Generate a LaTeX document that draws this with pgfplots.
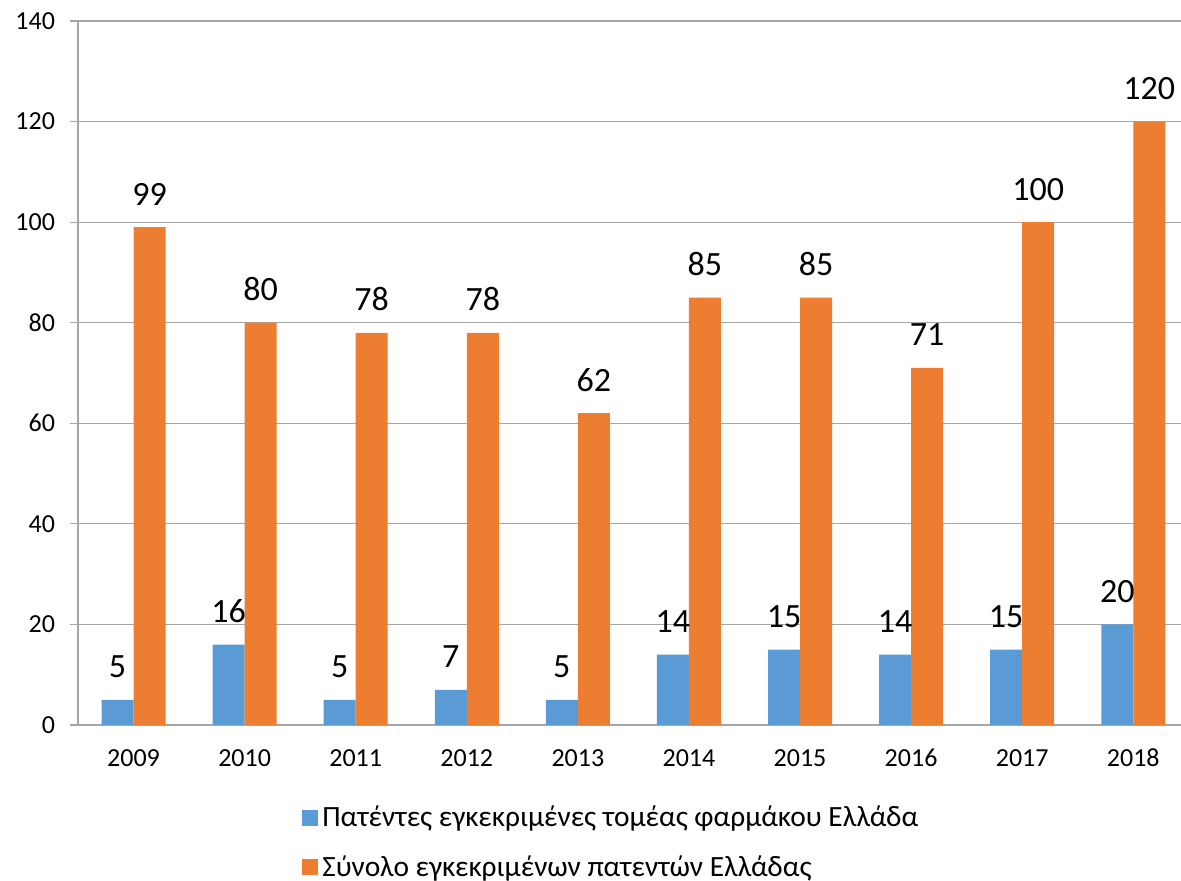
\documentclass[border=0pt]{standalone}
\usepackage{pgfplots}
\pgfplotsset{compat=1.18}
\usepackage{fontspec}
\setmainfont{Carlito}
\definecolor{cblue}{HTML}{5B9BD5}
\definecolor{corange}{HTML}{ED7D31}
\definecolor{gridc}{HTML}{A6A6A6}
\begin{document}
\begin{tikzpicture}
\path[use as bounding box] (-39pt,-78pt) rectangle (551.5pt,362.5pt);
\begin{axis}[
  at={(0pt,0pt)}, anchor=south west,
  scale only axis, width=551.5pt, height=352pt,
  ybar=0pt, bar width=16pt,
  xmin=-0.5, xmax=9.43, ymin=0, ymax=140,
  xtick={0,...,9},
  xticklabels={2009,2010,2011,2012,2013,2014,2015,2016,2017,2018},
  x tick style={draw=none},
  extra x ticks={-0.5,0.5,1.5,2.5,3.5,4.5,5.5,6.5,7.5,8.5},
  extra x tick labels={},
  extra x tick style={major tick length=4pt, tick style={draw=gridc, line width=0.6pt}, tick pos=bottom, tick align=outside},
  ytick={0,20,...,140},
  ymajorgrids, grid style={gridc, line width=0.6pt},
  y tick style={draw=gridc, line width=0.6pt},
  major tick length=4pt, tick align=outside, tick pos=left,
  axis x line*=bottom, axis y line*=left,
  axis line style={gridc, line width=0.6pt, -},
  /pgf/number format/assume math mode=true,
  ticklabel style={font=\fontsize{13pt}{15pt}\selectfont},
  xticklabel style={anchor=base, yshift=-16.5pt},
  yticklabel style={xshift=-4pt},
  nodes near coords,
  every node near coord/.append style={font=\fontsize{17pt}{19pt}\selectfont, anchor=base, yshift=11pt, inner sep=0pt},
  legend style={at={(0.203,-0.1085)}, anchor=north west, draw=none, fill=none,
    font=\fontsize{14.7pt}{17pt}\selectfont, row sep=9pt, inner sep=0pt,
    legend cell align=left},
  legend image code/.code={\fill[#1] (0pt,-4pt) rectangle (8pt,4pt);},
]
\addplot[fill=cblue, draw=none] coordinates {(0,5) (1,16) (2,5) (3,7) (4,5) (5,14) (6,15) (7,14) (8,15) (9,20)};
\addplot[fill=corange, draw=none] coordinates {(0,99) (1,80) (2,78) (3,78) (4,62) (5,85) (6,85) (7,71) (8,100) (9,120)};
\legend{Πατέντες εγκεκριμένες τομέας φαρμάκου Ελλάδα, Σύνολο εγκεκριμένων πατεντών Ελλάδας}
\end{axis}
\end{tikzpicture}
\end{document}
